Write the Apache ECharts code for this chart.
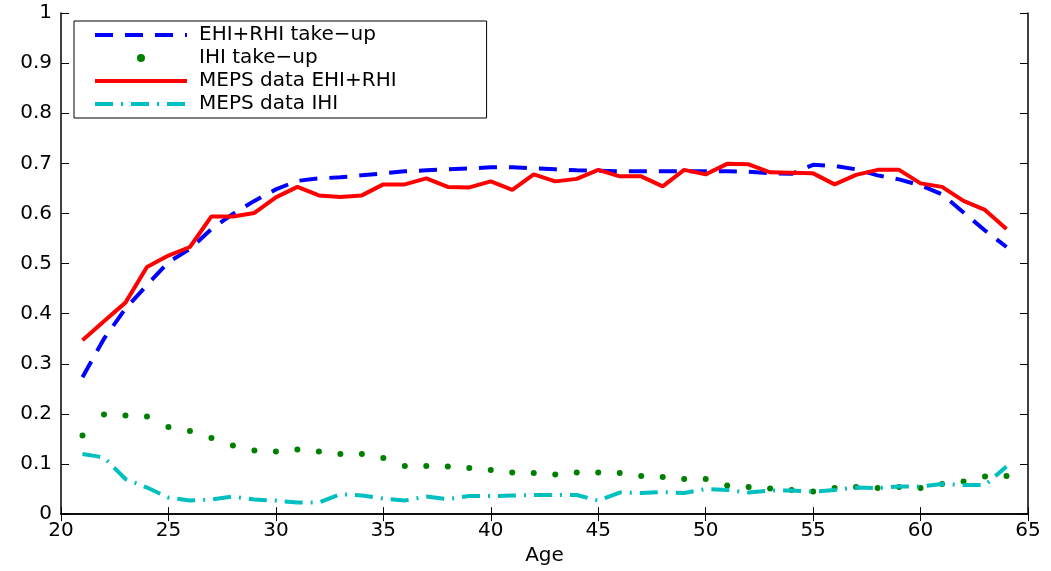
<!DOCTYPE html>
<html>
<head>
<meta charset="utf-8">
<script src="https://cdn.jsdelivr.net/npm/echarts@6/dist/echarts.min.js"></script>
<style>
html,body{margin:0;padding:0;background:#fff;}
#chart{width:1051px;height:571px;}
</style>
</head>
<body>
<div id="chart"></div>
<script>
const ages = [21,22,23,24,25,26,27,28,29,30,31,32,33,34,35,36,37,38,39,40,41,42,43,44,45,46,47,48,49,50,51,52,53,54,55,56,57,58,59,60,61,62,63,64];
const modelEhiRhi = [0.273,0.350,0.410,0.457,0.503,0.529,0.569,0.599,0.625,0.648,0.665,0.670,0.672,0.676,0.680,0.684,0.686,0.688,0.690,0.692,0.692,0.690,0.688,0.686,0.685,0.684,0.684,0.684,0.684,0.684,0.684,0.683,0.680,0.679,0.697,0.695,0.688,0.676,0.668,0.656,0.638,0.602,0.566,0.533];
const modelIhi = [0.157,0.199,0.197,0.195,0.174,0.166,0.152,0.137,0.127,0.125,0.129,0.125,0.120,0.120,0.112,0.096,0.096,0.095,0.092,0.088,0.083,0.082,0.079,0.083,0.083,0.082,0.076,0.074,0.070,0.070,0.057,0.054,0.051,0.048,0.045,0.052,0.054,0.052,0.054,0.052,0.060,0.065,0.075,0.076];
const mepsEhiRhi = [0.347,0.385,0.422,0.493,0.516,0.533,0.594,0.594,0.601,0.632,0.653,0.636,0.633,0.636,0.658,0.658,0.670,0.653,0.652,0.664,0.647,0.678,0.664,0.669,0.687,0.674,0.674,0.654,0.687,0.678,0.699,0.698,0.682,0.681,0.680,0.658,0.677,0.687,0.687,0.660,0.653,0.625,0.607,0.569];
const mepsIhi = [0.120,0.113,0.070,0.053,0.033,0.027,0.029,0.035,0.029,0.027,0.023,0.023,0.040,0.037,0.031,0.027,0.035,0.030,0.036,0.036,0.037,0.038,0.038,0.038,0.027,0.043,0.042,0.044,0.042,0.050,0.048,0.043,0.047,0.047,0.045,0.048,0.053,0.052,0.055,0.055,0.060,0.058,0.058,0.095];
const seriesNames = ['EHI+RHI take\u2212up','IHI take\u2212up','MEPS data EHI+RHI','MEPS data IHI'];
const xTicks = {min:20, max:65, interval:5};
const yTicks = {min:0, max:1, interval:0.1};

const pairs = vals => ages.map((a,i) => [a, vals[i]]);
const FONT = 'DejaVu Sans';
const LW = 4;
const styles = [
  {color:'#0000ff', type:[18,12]},
  {color:'#008000', type:'solid'},
  {color:'#ff0000', type:'solid'},
  {color:'#00bfbf', type:[18,8,2,8]}
];
const axisLine = {show:true, lineStyle:{color:'#000', width:1.5}};
const tick = len => ({show:true, inside:true, length:len, lineStyle:{color:'#000', width:1}});

const legendData = seriesNames.map((n,i) => i === 1
  ? {name:n, icon:'circle', itemStyle:{color:styles[i].color, opacity:1}}
  : {name:n, itemStyle:{opacity:0}, lineStyle:{color:styles[i].color, width:LW, type:styles[i].type}});

const lineSeries = i => ({
  name:seriesNames[i], type:'line', symbol:'none',
  lineStyle:{color:styles[i].color, width:LW, type:styles[i].type},
  itemStyle:{color:styles[i].color}, z:2+i
});

const chart = echarts.init(document.getElementById('chart'), null, {renderer:'canvas'});
chart.setOption({
  animation:false,
  backgroundColor:'#fff',
  textStyle:{fontFamily:FONT},
  grid:{left:61, right:23, top:13, bottom:54, containLabel:false},
  legend:{
    orient:'vertical', left:74, top:21,
    data:legendData,
    itemWidth:92, itemHeight:8, itemGap:3,
    padding:[4,90,4,19],
    borderColor:'#000', borderWidth:1, borderRadius:0,
    backgroundColor:'#fff',
    selectedMode:false,
    textStyle:{fontFamily:FONT, fontSize:20, color:'#000', lineHeight:20, padding:[0,0,0,7]}
  },
  xAxis:[
    {type:'value', position:'bottom', min:xTicks.min, max:xTicks.max, interval:xTicks.interval,
     axisLine:axisLine, axisTick:tick(7), splitLine:{show:false},
     axisLabel:{fontFamily:FONT, fontSize:20, color:'#000', margin:7},
     name:'Age', nameLocation:'middle', nameGap:25,
     nameTextStyle:{fontFamily:FONT, fontSize:20, color:'#000'}},
    {type:'value', position:'top', min:xTicks.min, max:xTicks.max, interval:xTicks.interval,
     axisLine:axisLine, axisTick:tick(7), splitLine:{show:false}, axisLabel:{show:false}}
  ],
  yAxis:[
    {type:'value', position:'left', min:yTicks.min, max:yTicks.max, interval:yTicks.interval,
     axisLine:axisLine, axisTick:tick(8), splitLine:{show:false},
     axisLabel:{fontFamily:FONT, fontSize:20, color:'#000', margin:9}},
    {type:'value', position:'right', min:yTicks.min, max:yTicks.max, interval:yTicks.interval,
     axisLine:axisLine, axisTick:tick(8), splitLine:{show:false}, axisLabel:{show:false}}
  ],
  series:[
    Object.assign(lineSeries(0), {data:pairs(modelEhiRhi)}),
    {name:seriesNames[1], type:'scatter', data:pairs(modelIhi), symbol:'circle', symbolSize:6,
     itemStyle:{color:styles[1].color, opacity:1}, z:3},
    Object.assign(lineSeries(2), {data:pairs(mepsEhiRhi)}),
    Object.assign(lineSeries(3), {data:pairs(mepsIhi)})
  ]
});
</script>
</body>
</html>
